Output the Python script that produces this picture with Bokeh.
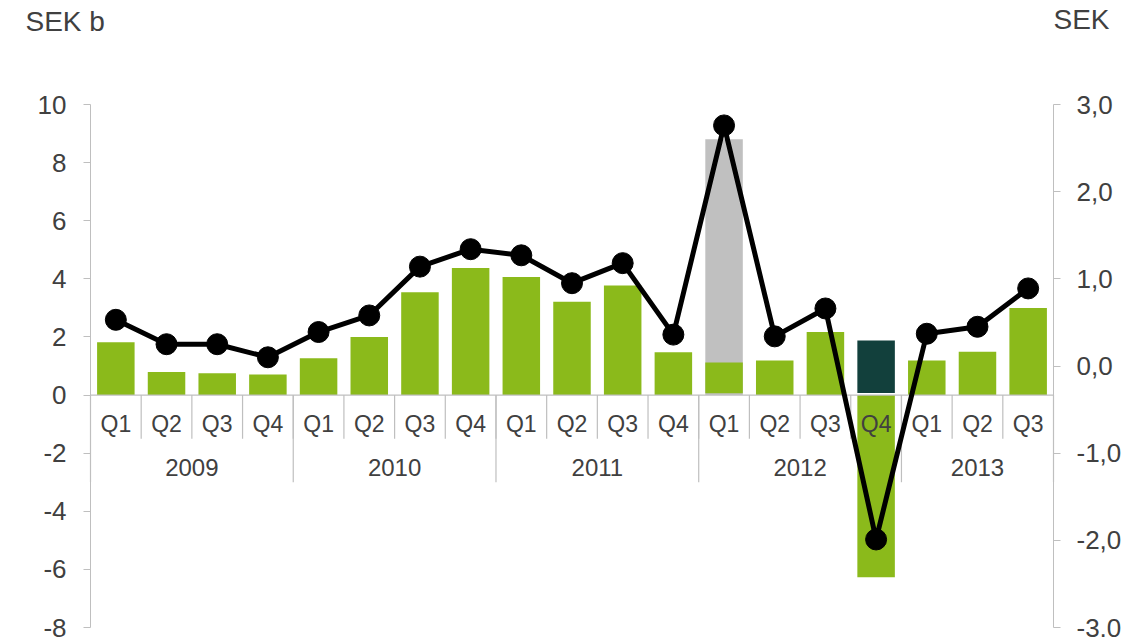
from bokeh.plotting import figure
from bokeh.models import Range1d, LinearAxis, FixedTicker, CustomJSTickFormatter, Label
from bokeh.core.properties import value
from bokeh.embed import file_html
from bokeh.resources import INLINE

# ---- data ----
years = ["2009", "2010", "2011", "2012", "2013"]
quarters_per_year = [4, 4, 4, 4, 3]
quarter_labels = ["Q1", "Q2", "Q3", "Q4", "Q1", "Q2", "Q3", "Q4", "Q1", "Q2", "Q3", "Q4",
                  "Q1", "Q2", "Q3", "Q4", "Q1", "Q2", "Q3"]
# Operating result (SEK b), left axis
result_sek_b = [1.82, 0.79, 0.75, 0.71, 1.27, 2.00, 3.54, 4.37, 4.06, 3.21, 3.77, 1.47,
                1.12, 1.19, 2.17, -6.27, 1.19, 1.49, 3.00]
# One-off items (SEK b)
grey_item_index = [12]
grey_item_value = [8.80]
teal_item_index = [15]
teal_item_value = [1.88]
# Earnings per share (SEK), right axis
eps_sek = [0.53, 0.25, 0.25, 0.10, 0.39, 0.58, 1.14, 1.34, 1.27, 0.95, 1.18, 0.36,
           2.76, 0.34, 0.66, -1.99, 0.37, 0.45, 0.89]
left_ticks = [-8, -6, -4, -2, 0, 2, 4, 6, 8, 10]
right_ticks = [-3, -2, -1, 0, 1, 2, 3]

GREEN = "#8BBA1B"
GREY = "#C0C0C0"
TEAL = "#12403C"
AXIS = "#BFBFBF"
TXT = "#404040"
FONT = "Liberation Sans"

W, H = 1145, 637
n = len(quarter_labels)
xc = [i + 0.5 for i in range(n)]

# frame spans the whole canvas; axes are placed at fixed locations
px_x = (1053 - 90) / n
px_yl = (627 - 104) / 18.0
px_yr = (627 - 104) / 6.0
x_range = Range1d(-90 / px_x, n + (W - 1053) / px_x)
y_range = Range1d(-8 - (H - 627) / px_yl, 10 + 104 / px_yl)

p = figure(width=W, height=H, x_range=x_range, y_range=y_range,
           output_backend="svg", toolbar_location=None, x_axis_location=None,
           min_border=0)
p.grid.visible = False
p.outline_line_color = None
p.background_fill_color = "white"
p.border_fill_color = "white"

p.extra_y_ranges = {"eps": Range1d(-3 - (H - 627) / px_yr, 3 + 104 / px_yr)}

def style(a, standoff):
    a.axis_line_color = AXIS
    a.major_tick_line_color = AXIS
    a.major_tick_out = 7
    a.major_tick_in = 0
    a.minor_tick_out = 0
    a.minor_tick_in = 0
    a.minor_tick_line_color = None
    a.major_label_text_font_size = "26px"
    a.major_label_text_color = TXT
    a.major_label_text_font = FONT
    a.major_label_standoff = standoff

ax = p.yaxis[0]
ax.ticker = FixedTicker(ticks=left_ticks)
ax.formatter = CustomJSTickFormatter(code="return tick.toString();")
ax.bounds = (left_ticks[0], left_ticks[-1])
ax.fixed_location = 0
style(ax, 17)

rax = LinearAxis(y_range_name="eps", ticker=FixedTicker(ticks=right_ticks),
                 formatter=CustomJSTickFormatter(code="return tick.toFixed(1).replace('.', ',');"))
rax.bounds = (right_ticks[0], right_ticks[-1])
rax.fixed_location = n
style(rax, 16)
p.add_layout(rax, "right")

bw = 0.74
# grey one-off bar
p.vbar(x=[i + 0.5 for i in grey_item_index], top=grey_item_value, bottom=0, width=bw,
       fill_color=GREY, line_color=None)
# green bars
bottoms = [0.06 if i in grey_item_index else 0 for i in range(n)]
p.vbar(x=xc, top=result_sek_b, bottom=bottoms, width=bw, fill_color=GREEN, line_color=None)
# teal one-off bar
p.vbar(x=[i + 0.5 for i in teal_item_index], top=teal_item_value, bottom=0.07, width=bw,
       fill_color=TEAL, line_color=None)

# category axis at zero
p.segment(x0=[0], y0=[0], x1=[n], y1=[0], line_color=AXIS, line_width=1.2)
qx = list(range(1, n))
p.segment(x0=qx, y0=[0] * len(qx), x1=qx, y1=[-1.5] * len(qx), line_color=AXIS, line_width=1.2)
ybounds = [0]
for c in quarters_per_year:
    ybounds.append(ybounds[-1] + c)
p.segment(x0=ybounds, y0=[0] * len(ybounds), x1=ybounds, y1=[-3.0] * len(ybounds),
          line_color=AXIS, line_width=1.2)

p.text(x=xc, y=[-0.98] * n, text=quarter_labels, text_align="center", text_baseline="middle",
       text_font=value(FONT), text_font_size="23px", text_color=TXT)
ycent = [(ybounds[i] + ybounds[i + 1]) / 2 for i in range(len(years))]
p.text(x=ycent, y=[-2.5] * len(years), text=years, text_align="center", text_baseline="middle",
       text_font=value(FONT), text_font_size="24px", text_color=TXT)

# EPS line
p.line(x=xc, y=eps_sek, y_range_name="eps", line_color="black", line_width=5)
p.scatter(x=xc, y=eps_sek, y_range_name="eps", size=21, fill_color="black", line_color="black")

# unit titles
p.add_layout(Label(x=(25 - 90) / px_x, y=10 + (104 - 21) / px_yl, text="SEK b",
                   text_font=FONT, text_font_size="28px", text_color=TXT,
                   text_baseline="middle", text_align="left"))
p.add_layout(Label(x=n, y=10 + (104 - 19) / px_yl, text="SEK",
                   text_font=FONT, text_font_size="28px", text_color=TXT,
                   text_baseline="middle", text_align="left"))

open("out.html", "w").write(file_html(p, INLINE))
